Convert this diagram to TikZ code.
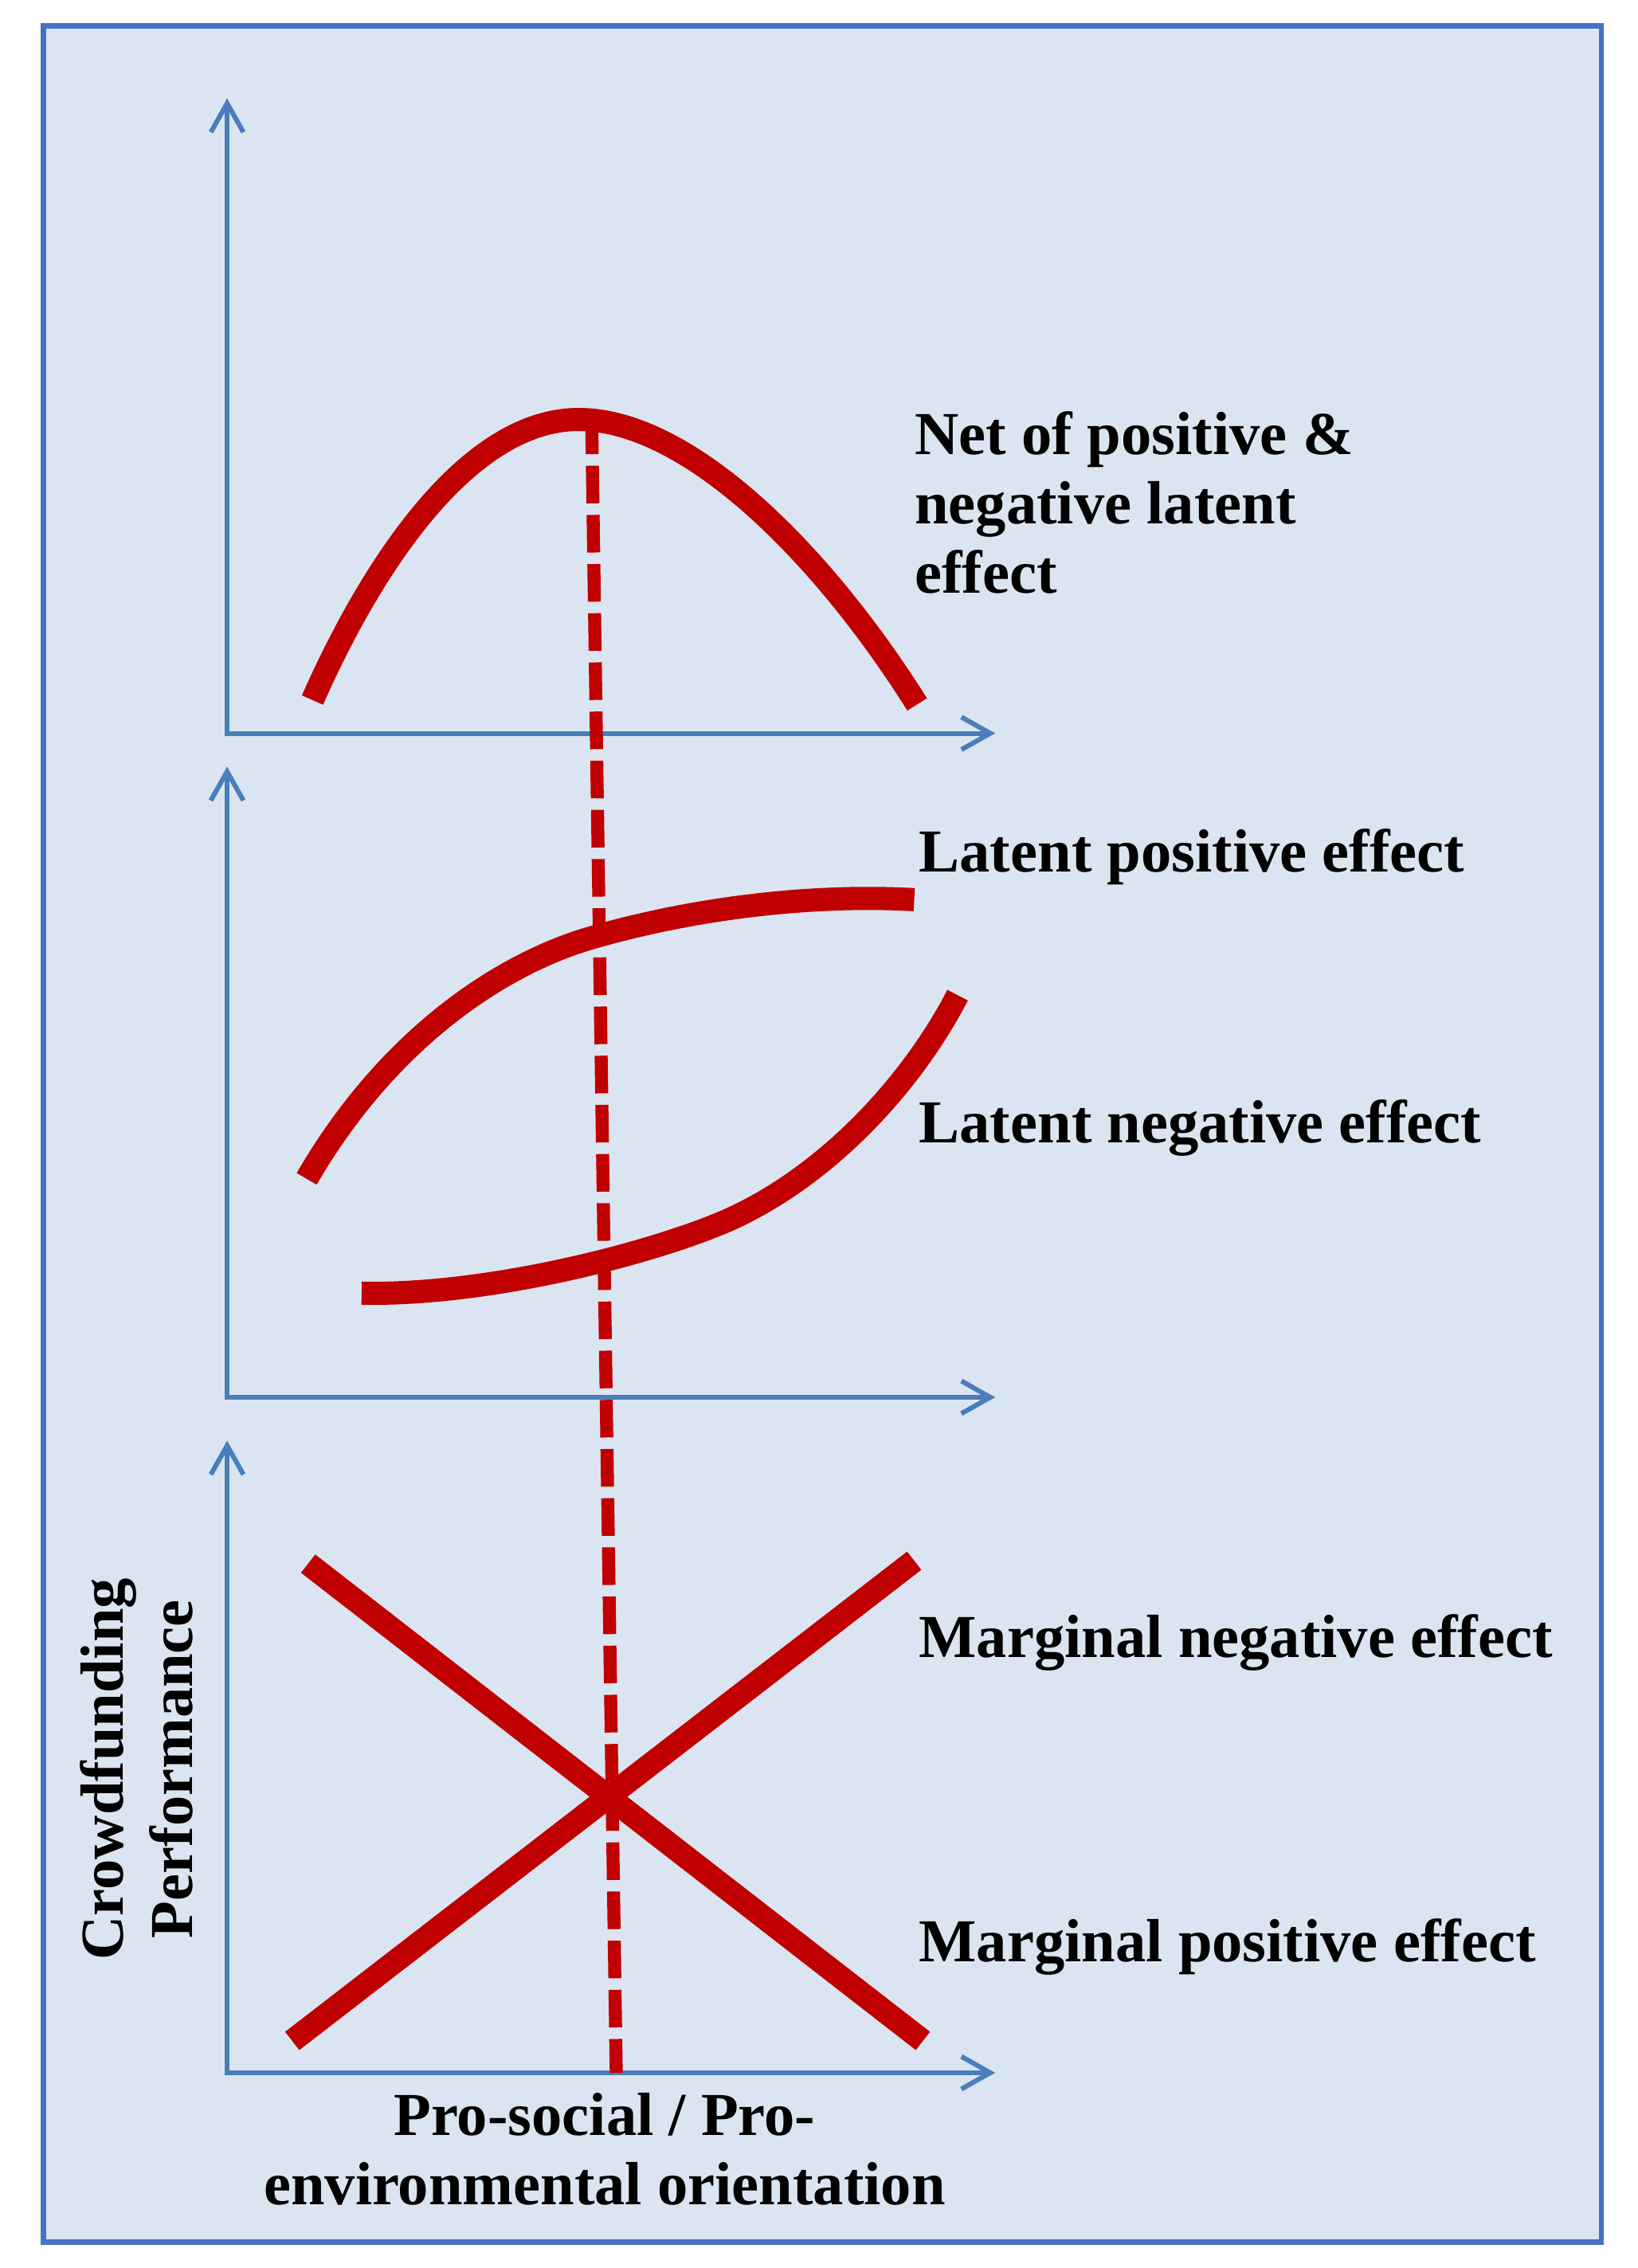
\documentclass[tikz,border=0pt]{standalone}
\usepackage{fontspec}
\setmainfont{Liberation Serif}
\usetikzlibrary{
  arrows.meta
}
\definecolor{panelfill}{HTML}{DBE5F1}
\definecolor{panelline}{HTML}{4472C4}
\definecolor{axisblue}{HTML}{4A7EBB}
\definecolor{effectred}{HTML}{C00000}

\begin{document}
\begin{tikzpicture}[x=0.02cm,y=-0.02cm,
	axis/.style={axisblue,line width=1.9pt,
		{Straight Barb[length=0.4cm,width=0.45cm]}-{Straight Barb[length=0.4cm,width=0.45cm]}},
	effect/.style={effectred,line width=0.32cm},
	divide/.style={effectred,line width=0.18cm,dash pattern=on 0.52cm off 0.16cm},
	lbl/.style={inner sep=0pt,align=left,font=\fontsize{24}{27.2}\selectfont\bfseries},
]
	\useasboundingbox (0,0) rectangle (1132,1568);
	\draw[panelline,fill=panelfill,line width=2pt] (30,18) rectangle (1107,1550);
	% axes of the three panels
	\coordinate (t1) at (157,68);
	\coordinate (o1) at (157,507);
	\coordinate (r1) at (688,507);
	\coordinate (t2) at (157,530);
	\coordinate (o2) at (157,966);
	\coordinate (r2) at (688,966);
	\coordinate (t3) at (157,996);
	\coordinate (o3) at (157,1433);
	\coordinate (r3) at (688,1433);
	\draw[axis] (t1) -- (o1) -- (r1);
	\draw[axis] (t2) -- (o2) -- (r2);
	\draw[axis] (t3) -- (o3) -- (r3);
	% net effect
	\draw[effect] (216,484) .. controls (262,380) and (328,290) .. (400,290)
		.. controls (477,290) and (570,385) .. (634,487);
	% latent effects
	\draw[effect] (212,815) .. controls (270,715) and (350,665) .. (410,648)
		.. controls (480,628) and (560,618) .. (632,622);
	\draw[effect] (250,894) .. controls (330,896) and (440,870) .. (500,845)
		.. controls (570,815) and (630,750) .. (662,688);
	% marginal effects
	\draw[effect] (213,1081) -- (638,1411);
	\draw[effect] (202,1411) -- (632,1079);
	\coordinate (top) at (409,288);
	\draw[divide] (top) -- (o3-|426,0);
	% labels (base = last line)
	\node[lbl,anchor=base west] (net) at (632,410) {Net of positive \&\\negative latent\\effect};
	\node[lbl,anchor=base west] (latpos) at (635,603) {Latent positive effect};
	\node[lbl,anchor=base west] (latneg) at (635,790) {Latent negative effect};
	\node[lbl,anchor=base west] (margneg) at (635,1146) {Marginal negative effect};
	\node[lbl,anchor=base west] (margpos) at (635,1356) {Marginal positive effect};
	\node[lbl,align=center,anchor=base] (xlab) at (418,1524) {Pro-social / Pro-\\environmental orientation};
	\node[lbl,align=center,anchor=base,rotate=90] (ylab) at (133,1223) {Crowdfunding\\Performance};
\end{tikzpicture}
\end{document}
